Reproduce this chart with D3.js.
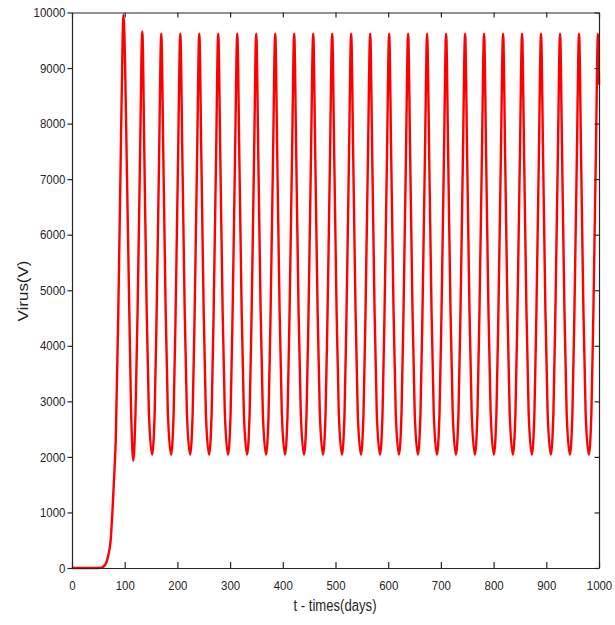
<!DOCTYPE html>
<html>
<head>
<meta charset="utf-8">
<script src="https://cdn.jsdelivr.net/npm/d3@7"></script>
<style>
  html, body { margin: 0; padding: 0; background: #ffffff; }
  svg { display: block; }
  text { font-family: "Liberation Sans", Arial, sans-serif; fill: #262626; }
</style>
</head>
<body>
<script>
// ---- data ----
const xTicks = [0, 100, 200, 300, 400, 500, 600, 700, 800, 900, 1000];
const yTicks = [0, 1000, 2000, 3000, 4000, 5000, 6000, 7000, 8000, 9000, 10000];
const xLabel = "t - times(days)";
const yLabel = "Virus(V)";

// time (days) of each sampled point on the curve
const timeDays = [
  0, 50, 56, 62.6, 69, 73.4, 77.2, 80.3, 83, 87.9, 92.4, 95.4, 97.5, 100.6, 103.8, 108.7, 112, 116.3, 120.5, 124.5, 129,
  133.4, 137.4, 141.7, 145.9, 151.9, 156.9, 160.7, 165.2,
  169.4, 173.4, 177.7, 181.9, 187.9, 192.9, 196.7, 201.2,
  205.5, 209.5, 213.8, 218.0, 224.0, 229.0, 232.8, 237.3,
  241.5, 245.5, 249.8, 254.0, 260.0, 265.0, 268.8, 273.3,
  277.5, 281.5, 285.8, 290.0, 296.0, 301.0, 304.8, 309.3,
  313.6, 317.6, 321.9, 326.1, 332.1, 337.1, 340.9, 345.4,
  349.6, 353.6, 357.9, 362.1, 368.1, 373.1, 376.9, 381.4,
  385.6, 389.6, 393.9, 398.1, 404.1, 409.1, 412.9, 417.4,
  421.6, 425.6, 429.9, 434.1, 440.1, 445.1, 448.9, 453.4,
  457.7, 461.7, 466.0, 470.2, 476.2, 481.2, 485.0, 489.5,
  493.7, 497.7, 502.0, 506.2, 512.2, 517.2, 521.0, 525.5,
  529.7, 533.7, 538.0, 542.2, 548.2, 553.2, 557.0, 561.5,
  565.8, 569.8, 574.1, 578.3, 584.3, 589.3, 593.1, 597.6,
  601.8, 605.8, 610.1, 614.3, 620.3, 625.3, 629.1, 633.6,
  637.8, 641.8, 646.1, 650.3, 656.3, 661.3, 665.1, 669.6,
  673.9, 675.0, 677.9, 682.2, 686.4, 692.4, 697.4, 701.2, 705.7,
  709.9, 713.9, 718.2, 722.4, 728.4, 733.4, 737.2, 741.7,
  745.9, 749.9, 754.2, 758.4, 764.4, 769.4, 773.2, 777.7,
  781.9, 785.9, 790.2, 794.4, 800.4, 805.4, 809.2, 813.7,
  818.0, 822.0, 826.3, 830.5, 836.5, 841.5, 845.3, 849.8,
  854.0, 858.0, 862.3, 866.5, 872.5, 877.5, 881.3, 885.8,
  890.0, 894.0, 898.3, 902.5, 908.5, 913.5, 917.3, 921.8,
  926.1, 930.1, 934.4, 938.6, 944.6, 949.6, 953.4, 957.9,
  962.1, 966.1, 970.4, 974.6, 980.6, 985.6, 989.4, 993.9,
  998.1, 1000
];

// virus load V at those times
const virus = [
  0, 0, 8, 54, 234, 505, 1105, 1710, 2300, 4650, 7350, 9150, 9960, 9150, 7350, 4650, 2900, 1930, 2800, 4650, 7350,
  9660, 7350, 4650, 2800, 2040, 2800, 4650, 7350,
  9620, 7350, 4650, 2800, 2040, 2800, 4650, 7350,
  9620, 7350, 4650, 2800, 2040, 2800, 4650, 7350,
  9620, 7350, 4650, 2800, 2040, 2800, 4650, 7350,
  9620, 7350, 4650, 2800, 2040, 2800, 4650, 7350,
  9620, 7350, 4650, 2800, 2040, 2800, 4650, 7350,
  9620, 7350, 4650, 2800, 2040, 2800, 4650, 7350,
  9620, 7350, 4650, 2800, 2040, 2800, 4650, 7350,
  9620, 7350, 4650, 2800, 2040, 2800, 4650, 7350,
  9620, 7350, 4650, 2800, 2040, 2800, 4650, 7350,
  9620, 7350, 4650, 2800, 2040, 2800, 4650, 7350,
  9620, 7350, 4650, 2800, 2040, 2800, 4650, 7350,
  9620, 7350, 4650, 2800, 2040, 2800, 4650, 7350,
  9620, 7350, 4650, 2800, 2040, 2800, 4650, 7350,
  9620, 7350, 4650, 2800, 2040, 2800, 4650, 7350,
  9620, 9300, 7350, 4650, 2800, 2040, 2800, 4650, 7350,
  9620, 7350, 4650, 2800, 2040, 2800, 4650, 7350,
  9620, 7350, 4650, 2800, 2040, 2800, 4650, 7350,
  9620, 7350, 4650, 2800, 2040, 2800, 4650, 7350,
  9620, 7350, 4650, 2800, 2040, 2800, 4650, 7350,
  9620, 7350, 4650, 2800, 2040, 2800, 4650, 7350,
  9620, 7350, 4650, 2800, 2040, 2800, 4650, 7350,
  9620, 7350, 4650, 2800, 2040, 2800, 4650, 7350,
  9620, 7350, 4650, 2800, 2040, 2800, 4650, 7350,
  9620, 8700
];

// ---- drawing ----
const W = 615, H = 625;
const plot = { left: 72, right: 599, top: 12.5, bottom: 568 };
const squish = 0.88; // horizontal compression seen in the reference text

const svg = d3.select("body").append("svg").attr("width", W).attr("height", H);
svg.append("rect").attr("width", W).attr("height", H).attr("fill", "#ffffff");

const x = d3.scaleLinear().domain([0, 1000]).range([plot.left, plot.right]);
const y = d3.scaleLinear().domain([0, 10000]).range([plot.bottom, plot.top]);

const data = timeDays.map((t, i) => ({ t, v: virus[i] }));

// curve
svg.append("path")
  .datum(data)
  .attr("fill", "none")
  .attr("stroke", "#ff0000")
  .attr("stroke-width", 2.4)
  .attr("stroke-linejoin", "round")
  .attr("d", d3.line().x(d => x(d.t)).y(d => y(d.v)).curve(d3.curveMonotoneX));

const axisColor = "#262626";

// bottom axis (ticks inward)
const gB = svg.append("g").attr("transform", `translate(0,${plot.bottom})`)
  .call(d3.axisBottom(x).tickValues(xTicks).tickSizeInner(-6).tickSizeOuter(0).tickPadding(12.7).tickFormat(d3.format("d")));
// left axis (ticks outward)
const gL = svg.append("g").attr("transform", `translate(${plot.left},0)`)
  .call(d3.axisLeft(y).tickValues(yTicks).tickSizeInner(4.5).tickSizeOuter(0).tickPadding(3).tickFormat(d3.format("d")));
// top axis (ticks inward, no labels)
const gT = svg.append("g").attr("transform", `translate(0,${plot.top})`)
  .call(d3.axisTop(x).tickValues(xTicks).tickSizeInner(-5).tickSizeOuter(0).tickFormat(""));
// right axis (ticks inward, no labels)
const gR = svg.append("g").attr("transform", `translate(${plot.right},0)`)
  .call(d3.axisRight(y).tickValues(yTicks).tickSizeInner(-4.5).tickSizeOuter(0).tickFormat(""));

[gB, gL, gT, gR].forEach(g => {
  g.select(".domain").attr("stroke", axisColor).attr("stroke-width", 1.2);
  g.selectAll(".tick line").attr("stroke", axisColor).attr("stroke-width", 1.2);
  g.selectAll(".tick text")
    .attr("font-size", 13)
    .attr("font-family", '"Liberation Sans", Arial, sans-serif')
    .attr("fill", axisColor);
});
gB.selectAll(".tick text").attr("transform", `scale(${squish},1)`);
gL.selectAll(".tick text").attr("transform", `scale(${squish},1)`);

// axis titles
svg.append("text")
  .attr("transform", `translate(335,611) scale(0.82,1)`)
  .attr("text-anchor", "middle")
  .attr("font-size", 16)
  .attr("fill", axisColor)
  .text(xLabel);

svg.append("text")
  .attr("transform", `translate(28.3,291) scale(${squish},1) rotate(-90)`)
  .attr("text-anchor", "middle")
  .attr("font-size", 17)
  .attr("fill", axisColor)
  .text(yLabel);
</script>
</body>
</html>
